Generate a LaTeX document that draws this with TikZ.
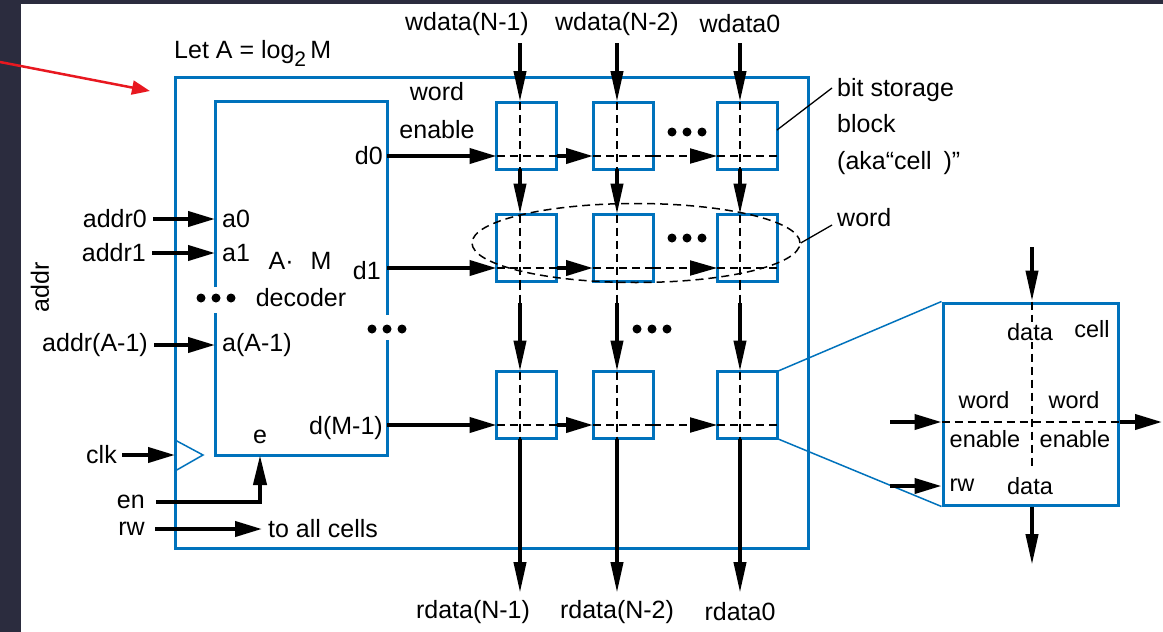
\documentclass[tikz,border=0pt]{standalone}
\usepackage{fontspec}
\setmainfont{Liberation Sans}
\usetikzlibrary{arrows.meta,shapes.geometric}
\definecolor{framebg}{RGB}{43,44,62}
\definecolor{wire}{RGB}{0,114,188}
\definecolor{pointer}{RGB}{232,24,32}
% three filled dots centred at (#1,#2)
\newcommand{\tridots}[2]{\foreach \k in {-1,0,1}{\fill ({#1+\k*15},#2) circle [radius=4.5pt];}}
\begin{document}
\begin{tikzpicture}[x=1pt,y=-1pt,
  lbl/.style={inner sep=0pt, font=\fontsize{25}{30}\selectfont},
  sml/.style={inner sep=0pt, font=\fontsize{23.5}{28}\selectfont},
  blk/.style={draw=wire, line width=3pt},
  cellbox/.style={draw=wire, line width=3pt, minimum width=60pt, minimum height=67pt, inner sep=0pt, outer sep=0pt},
  bus/.style={line width=4pt},
  harrow/.style={bus, -{Triangle[length=27pt,width=15pt]}},
  varrow/.style={bus, -{Triangle[length=31pt,width=12pt]}},
  guide/.style={line width=2pt, dash pattern=on 8pt off 5pt},
  leader/.style={line width=1.3pt},
  zoomline/.style={draw=wire, line width=1.5pt},
]
% page background and frame
\fill[framebg] (0,0) rectangle (1163,632);
\fill[white] (21,4) rectangle (1163,632);
\useasboundingbox (0,0) rectangle (1163,632);

% red pointer
\coordinate (ptr0) at (0,62);
\coordinate (ptr1) at (150,91);
\draw[pointer, line width=2.5pt, -{Triangle[length=18pt,width=14pt]}] (ptr0) -- (ptr1);

\node[lbl, anchor=base west] (letA) at (174,58) {Let A = log\raisebox{-8pt}{\fontsize{21}{21}\selectfont 2}\,M};

% memory block outline
\node[blk, minimum width=633pt, minimum height=471pt, inner sep=0pt] (outer) at (491.5,312.5) {};

% decoder outline, open where the dots are
\node[minimum width=172pt, minimum height=354pt, inner sep=0pt, outer sep=0pt] (dec) at (301,278) {};
\draw[wire, line width=3pt] (215,287) -- (dec.north west) -- (dec.north east) -- (387,315);
\draw[wire, line width=3pt] (387,340) -- (dec.south east) -- (dec.south west) -- (215,313);

% clock input
\draw[wire, line width=1.5pt] (175,440) -- (203,455) -- (175,471);

% storage cells
\foreach \r/\y in {1/135.5, 2/248, 3/405}
  \foreach \c/\x in {1/526.5, 2/623, 3/747}
    \node[cellbox] (c\r\c) at (\x,\y) {};

\coordinate (k1) at (520,0);
\coordinate (k2) at (617,0);
\coordinate (k3) at (740,0);
\coordinate (e1) at (0,156);
\coordinate (e2) at (0,268);
\coordinate (e3) at (0,425);
\coordinate (wtop) at (0,43);
\coordinate (brk) at (0,303);
\coordinate (rbot) at (0,593);

% dashed data and enable lines inside each cell
\foreach \r in {1,2,3}{
  \foreach \c in {1,2,3}{
    \draw[guide] (k\c |- c\r\c.north) -- (k\c |- c\r\c.south);
    \draw[guide] (c\r\c.west |- e\r) -- (c\r\c.east |- e\r);
  }
}

% word enable rows
\foreach \r in {1,2,3}{
  \draw[harrow] (dec.east |- e\r) -- (c\r1.west |- e\r);
  \draw[harrow] (c\r1.east |- e\r) -- (c\r2.west |- e\r);
  \draw[guide, -{Triangle[length=27pt,width=15pt]}] (c\r2.east |- e\r) -- (c\r3.west |- e\r);
}

% data columns
\foreach \c in {1,2,3}{
  \draw[varrow] (k\c |- wtop) -- (k\c |- c1\c.north);
  \draw[varrow] (k\c |- c1\c.south) -- (k\c |- c2\c.north);
  \draw[guide] (k\c |- c2\c.south) -- (k\c |- brk);
  \draw[varrow] (k\c |- brk) -- (k\c |- c3\c.north);
  \draw[varrow] (k\c |- c3\c.south) -- (k\c |- rbot);
}

\node[lbl] (w1) at (467,24) {wdata(N-1)};
\node[lbl] (w2) at (617,24) {wdata(N-2)};
\node[lbl] (w3) at (740,24) {wdata0};
\node[lbl] (r1) at (473,612) {rdata(N-1)};
\node[lbl] (r2) at (617,612) {rdata(N-2)};
\node[lbl] (r3) at (740,612) {rdata0};

% decoder labels
\node[lbl, anchor=east] (d0) at (383,156) {d0};
\node[lbl, anchor=east] (d1) at (381,271) {d1};
\node[lbl, anchor=east] (dM) at (383,428) {d(M-1)};
\node[lbl, anchor=west] (a0) at (222,219) {a0};
\node[lbl, anchor=west] (a1) at (222,253) {a1};
\node[lbl, anchor=west] (aA) at (222,345) {a(A-1)};
\node[lbl] (am) at (300,261) {A·\hspace{17pt}M};
\node[lbl] (decname) at (301,298) {decoder};
\node[lbl] (e) at (260,437) {e};
\node[lbl] (wl) at (437,92) {word};
\node[lbl] (el) at (437,130) {enable};

% address inputs
\node[lbl, anchor=east] (ad0) at (147,219) {addr0};
\node[lbl, anchor=east] (ad1) at (146,253) {addr1};
\node[lbl, anchor=east] (adA) at (148,345) {addr(A-1)};
\foreach \n in {ad0,ad1,adA}
  \draw[harrow, shorten <=6pt] (\n.east) -- (dec.west |- \n.east);
\node[lbl, rotate=90] (addr) at (40,287) {addr};

% control inputs
\node[lbl, anchor=east] (clk) at (117,455) {clk};
\coordinate (clkin) at (175,455);
\draw[harrow, shorten <=5pt] (clk.east) -- (clkin);
\node[lbl, anchor=east] (en) at (145,502) {en};
\coordinate (ein) at (260,455);
\draw[bus, -{Triangle[length=30pt,width=13pt]}, shorten <=11pt] (en.east) -| (ein);
\node[lbl, anchor=east] (rw) at (145,529) {rw};
\node[lbl, anchor=west] (allc) at (268,529) {to all cells};
\draw[harrow, shorten <=10pt, shorten >=6pt] (rw.east) -- (allc.west |- rw.east);

% dots
\tridots{687}{132}
\tridots{687}{238}
\tridots{652}{329}
\tridots{216}{298}
\tridots{387}{329}

% one word
\node[draw, ellipse, line width=1.5pt, dash pattern=on 8pt off 5pt, minimum width=328pt, minimum height=79pt, inner sep=0pt] (ring) at (636,243) {};
\node[lbl, anchor=west] (wordlbl) at (837,218) {word};
\draw[leader] (ring.east) -- ([xshift=-5pt,yshift=-7pt]wordlbl.west);

\node[lbl, align=left, anchor=north west, font=\fontsize{25}{36.5}\selectfont] (bitlbl) at (837,78) {bit storage\\block\\(aka“cell\hspace{12pt})”};
\draw[leader] ([yshift=5.5pt]c13.east) -- ([xshift=-5pt,yshift=-10pt]bitlbl.north west);

% enlarged cell
\node[draw=wire, line width=3pt, minimum width=175pt, minimum height=202pt, inner sep=0pt] (bigcell) at (1030.5,404) {};
\draw[zoomline] (c33.north east) -- (bigcell.north west);
\draw[zoomline] (c33.south east) -- (bigcell.south west);
\coordinate (bx) at (1032,0);
\coordinate (by) at (0,422);
\coordinate (bend) at (1032,470);
\draw[guide] (bx |- bigcell.north) -- (bend);
\draw[guide] (bigcell.west |- by) -- (bigcell.east |- by);
\coordinate (btop) at (1032,247);
\coordinate (bbot) at (1032,565);
\coordinate (bwe) at (890,422);
\coordinate (brw) at (890,486);
\coordinate (bout) at (1162,422);
\draw[varrow] (btop) -- (bx |- bigcell.north);
\draw[varrow] (bx |- bigcell.south) -- (bbot);
\draw[harrow] (bwe) -- (bigcell.west |- by);
\draw[harrow] (brw) -- (bigcell.west |- brw);
\draw[harrow] (bigcell.east |- by) -- (bout);

\node[sml, fill=white, inner sep=1pt] (dtop) at (1030,332) {data};
\node[sml] (cl) at (1092,329) {cell};
\node[sml] (wL) at (984,400) {word};
\node[sml] (wR) at (1074,400) {word};
\node[sml] (eL) at (985,439) {enable};
\node[sml] (eR) at (1075,439) {enable};
\node[sml] (rwc) at (962,485) {rw};
\node[sml] (dbot) at (1030,486) {data};
\end{tikzpicture}
\end{document}
